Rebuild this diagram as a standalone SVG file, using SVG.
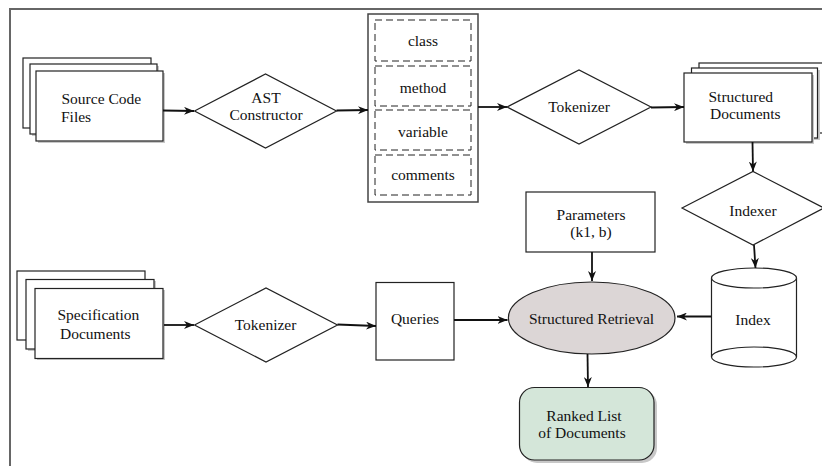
<svg xmlns="http://www.w3.org/2000/svg" width="822" height="466" viewBox="0 0 822 466">
<defs>
<marker id="ah" viewBox="0 0 10 8" refX="10" refY="4" markerWidth="10" markerHeight="8" markerUnits="userSpaceOnUse" orient="auto">
<path d="M0,0 L10,4 L0,8 L3,4 Z" fill="#111"/>
</marker>
</defs>
<style>
text{font-family:'Liberation Serif','DejaVu Serif',serif;font-size:15.5px;fill:#111}
.m{text-anchor:middle}
.b{fill:#fff;stroke:#222;stroke-width:1.2}
.sh{fill:#c8c8c8}
.d{fill:none;stroke:#222;stroke-width:1;stroke-dasharray:7,4}
.c{fill:none;stroke:#111;stroke-width:1.8;marker-end:url(#ah)}
</style>
<rect width="822" height="466" fill="#fff"/>
<g id="frame">
<path d="M10,466 L10,9 L822,9" fill="none" stroke="#666" stroke-width="2"/>
</g>
<g font-family="Liberation Serif, DejaVu Serif, serif">
<g id="source-code-files">
<rect class="b" x="23" y="58" width="128" height="70"/>
<rect class="sh" x="32" y="66" width="127" height="70"/>
<rect class="b" x="30" y="64" width="127" height="70"/>
<rect class="sh" x="38" y="73" width="127" height="70"/>
<rect class="b" x="36" y="71" width="127" height="70"/>
<text x="61.5" y="103.5">Source Code</text>
<text x="61" y="122">Files</text>
</g>
<g id="ast-constructor">
<polygon class="b" points="194.5,111 265.5,74 336.5,111 265.5,148"/>
<text class="m" x="266" y="103">AST</text>
<text class="m" x="266" y="119.5">Constructor</text>
</g>
<g id="fields">
<rect x="368" y="14" width="110" height="188" fill="#fff" stroke="#444" stroke-width="1.5"/>
<rect class="d" x="375" y="20" width="96" height="41"/>
<rect class="d" x="375" y="66" width="96" height="40"/>
<rect class="d" x="375" y="110" width="96" height="40"/>
<rect class="d" x="375" y="155" width="96" height="40"/>
<text class="m" x="423" y="46">class</text>
<text class="m" x="423" y="93">method</text>
<text class="m" x="423" y="137">variable</text>
<text class="m" x="423" y="180">comments</text>
</g>
<g id="tokenizer-1">
<polygon class="b" points="507,107 579,70 651,107 579,144"/>
<text class="m" x="579" y="112">Tokenizer</text>
</g>
<g id="structured-documents">
<rect class="b" x="699" y="63" width="127" height="70"/>
<rect class="sh" x="694" y="70" width="126" height="70"/>
<rect class="b" x="691.5" y="68" width="126" height="70"/>
<rect class="sh" x="686" y="75" width="128" height="69"/>
<rect class="b" x="684" y="73" width="128" height="69"/>
<text x="708.5" y="101.5">Structured</text>
<text x="710" y="118.5">Documents</text>
</g>
<g id="indexer">
<polygon class="b" points="682,208 753,171.5 824,208 753,245"/>
<text class="m" x="753" y="216">Indexer</text>
</g>
<g id="index">
<path class="b" d="M711.5,278 L711.5,357 A42.5,10 0 0 0 796.5,357 L796.5,278"/>
<ellipse class="b" cx="754" cy="278" rx="42.5" ry="10"/>
<path d="M711.5,357 A42.5,10 0 0 1 796.5,357" fill="none" stroke="#222" stroke-width="1.2"/>
<text class="m" x="753" y="325">Index</text>
</g>
<g id="parameters">
<rect class="b" x="526" y="192" width="129" height="60"/>
<text class="m" x="591" y="220">Parameters</text>
<text class="m" x="591" y="236.5">(k1, b)</text>
</g>
<g id="structured-retrieval">
<ellipse cx="591.7" cy="318" rx="83.3" ry="36" fill="#dcd6d6" stroke="#222" stroke-width="1.2"/>
<text class="m" x="591.5" y="324">Structured Retrieval</text>
</g>
<g id="specification-documents">
<rect class="b" x="17" y="271" width="128" height="69"/>
<rect class="sh" x="28" y="281" width="128" height="70"/>
<rect class="b" x="26" y="279.5" width="128" height="69.5"/>
<rect class="sh" x="37" y="290" width="128" height="70"/>
<rect class="b" x="35" y="288.5" width="128" height="70"/>
<text x="57.5" y="320">Specification</text>
<text x="60" y="339">Documents</text>
</g>
<g id="tokenizer-2">
<polygon class="b" points="194.5,325 266,288 337.5,325 266,362"/>
<text class="m" x="265.5" y="330">Tokenizer</text>
</g>
<g id="queries">
<rect class="b" x="376" y="282.5" width="78" height="77.5"/>
<text class="m" x="415" y="324">Queries</text>
</g>
<g id="ranked-list">
<rect x="522" y="390" width="135" height="73" rx="15" fill="#c8c8c8"/>
<rect x="519.5" y="387.5" width="134.5" height="72.5" rx="15" fill="#d4e6d9" stroke="#222" stroke-width="1.2"/>
<text class="m" x="584" y="420.5">Ranked List</text>
<text class="m" x="582" y="438">of Documents</text>
</g>
</g>
<g id="connectors">
<path class="c" d="M163,110.5 L194,111"/>
<path class="c" d="M336.5,110.5 L368,110"/>
<path class="c" d="M478,107 L507,107"/>
<path class="c" d="M651,107.5 L684,107"/>
<path class="c" d="M752.5,142 L753,171.5"/>
<path class="c" d="M754,245 L755.5,268"/>
<path class="c" d="M711,316.5 L677,316.5"/>
<path class="c" d="M592,252 L592,281"/>
<path class="c" d="M454,320 L507.5,320"/>
<path class="c" d="M587.5,354 L588,387"/>
<path class="c" d="M164,325 L194,325"/>
<path class="c" d="M337.5,324.5 L376,326"/>
</g>
</svg>
